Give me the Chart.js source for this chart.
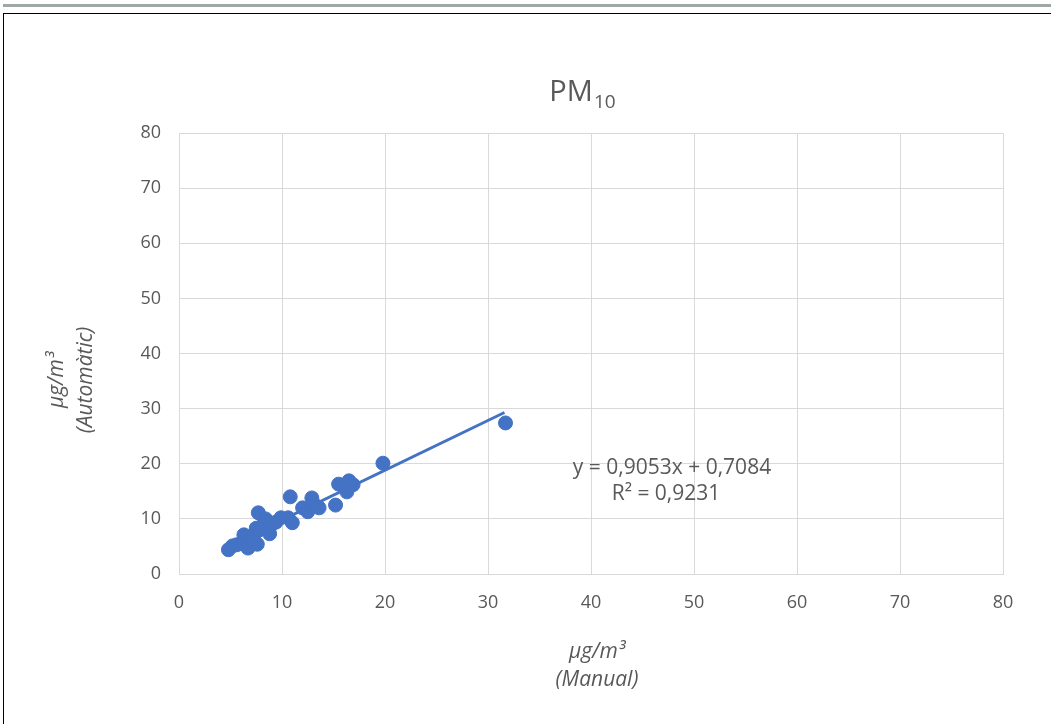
<!DOCTYPE html>
<html>
<head>
<meta charset="utf-8">
<script src="https://cdn.jsdelivr.net/npm/chart.js@4"></script>
<style>
  body { margin: 0; background: #fff; overflow: hidden; }
  #barra { position: absolute; left: 3px; right: 0; top: 4px; height: 3px; background: #9fa7a7; }
  #marco { position: absolute; left: 3px; top: 13px; width: 1100px; height: 800px; border: 1.5px solid #000; box-sizing: border-box; }
  #wrap { position: absolute; left: 0; top: 0; width: 1051px; height: 724px; }
</style>
</head>
<body>
<div id="barra"></div>
<div id="marco"></div>
<div id="wrap"><canvas id="grafico" width="1051" height="724"></canvas></div>
<script>
// Valores (Manual vs Automàtic)
const manual = [4.8, 5.2, 5.6, 6.0, 6.3, 6.3, 6.6, 6.7, 7.0, 7.1, 7.3, 7.5, 7.6, 7.7, 7.8, 8.0, 8.2, 8.4, 8.4, 8.8, 9.0, 9.4, 9.9, 10.6, 10.8, 11.0, 12.0, 12.5, 12.9, 13.2, 13.6, 15.2, 15.5, 16.3, 16.5, 16.9, 19.8, 31.7];
const automatic = [4.4, 5.1, 5.3, 5.5, 5.6, 7.1, 6.6, 4.7, 5.8, 6.2, 7.2, 8.3, 5.4, 11.1, 8.0, 8.5, 9.0, 10.0, 9.3, 7.3, 9.0, 9.4, 10.2, 10.2, 14.0, 9.3, 12.0, 11.3, 13.8, 12.5, 12.0, 12.5, 16.3, 14.9, 16.9, 16.2, 20.1, 27.4];

// Extremos de la línea de tendencia
const tendX = [4.7, 31.6];
const tendY = [5.0, 29.3];

const ecuacion = ['y = 0,9053x + 0,7084', 'R² = 0,9231'];
const tituloY = ['µg/m³', '(Automàtic)'];
const tituloX = ['µg/m³', '(Manual)'];

const gris = '#595959';
const fuente = '"Open Sans", "Noto Sans", sans-serif';

const puntos = manual.map((x, i) => ({ x: x, y: automatic[i] }));
const linea = tendX.map((x, i) => ({ x: x, y: tendY[i] }));

// Textos propios: título con subíndice, títulos de ejes y ecuación
const textos = {
    id: 'textos',
    afterDraw(chart) {
        const ctx = chart.ctx;
        const area = chart.chartArea;
        ctx.save();
        ctx.fillStyle = gris;
        ctx.textBaseline = 'alphabetic';

        // Título PM10
        ctx.font = '29px ' + fuente;
        const wPM = ctx.measureText('PM').width;
        ctx.font = '19px ' + fuente;
        const w10 = ctx.measureText('10').width;
        const x0 = 582 - (wPM + w10) / 2;
        ctx.textAlign = 'left';
        ctx.font = '29px ' + fuente;
        ctx.fillText('PM', x0, 101);
        ctx.font = '19px ' + fuente;
        ctx.fillText('10', x0 + wPM + 1, 108);

        // Ecuación
        ctx.textAlign = 'center';
        ctx.font = '21px ' + fuente;
        ctx.fillText(ecuacion[0], 672, 474);
        ctx.fillText(ecuacion[1], 666, 500);

        // Título eje X
        ctx.font = 'italic 21px ' + fuente;
        const cx = (area.left + area.right) / 2 + 6;
        ctx.fillText(tituloX[0], cx, 658);
        ctx.fillText(tituloX[1], cx, 686);

        // Título eje Y
        ctx.translate(70, 380);
        ctx.rotate(-Math.PI / 2);
        ctx.fillText(tituloY[0], 0, -7);
        ctx.fillText(tituloY[1], 0, 22);
        ctx.restore();
    }
};

new Chart(document.getElementById('grafico'), {
    type: 'scatter',
    data: {
        datasets: [{
            label: 'Tendencia',
            data: linea,
            showLine: true,
            borderColor: '#4472c4',
            borderWidth: 3,
            pointRadius: 0,
            fill: false
        }, {
            label: 'PM10',
            data: puntos,
            backgroundColor: '#4472c4',
            borderColor: '#4472c4',
            pointRadius: 7,
            pointHoverRadius: 7
        }]
    },
    options: {
        responsive: false,
        animation: false,
        layout: { padding: { top: 133, right: 48, left: 0, bottom: 0 } },
        plugins: {
            legend: { display: false },
            tooltip: { enabled: false }
        },
        scales: {
            x: {
                type: 'linear',
                min: 0,
                max: 80,
                ticks: { stepSize: 10, color: gris, font: { size: 18, family: fuente }, padding: 18 },
                grid: { color: '#d9d9d9', drawTicks: false },
                border: { color: '#d9d9d9' },
                afterFit(s) { s.height = 150; }
            },
            y: {
                type: 'linear',
                min: 0,
                max: 80,
                ticks: { stepSize: 10, color: gris, font: { size: 18, family: fuente }, padding: 18 },
                grid: { color: '#d9d9d9', drawTicks: false },
                border: { display: false },
                afterFit(s) { s.width = 179; }
            }
        }
    },
    plugins: [textos]
});
</script>
</body>
</html>
